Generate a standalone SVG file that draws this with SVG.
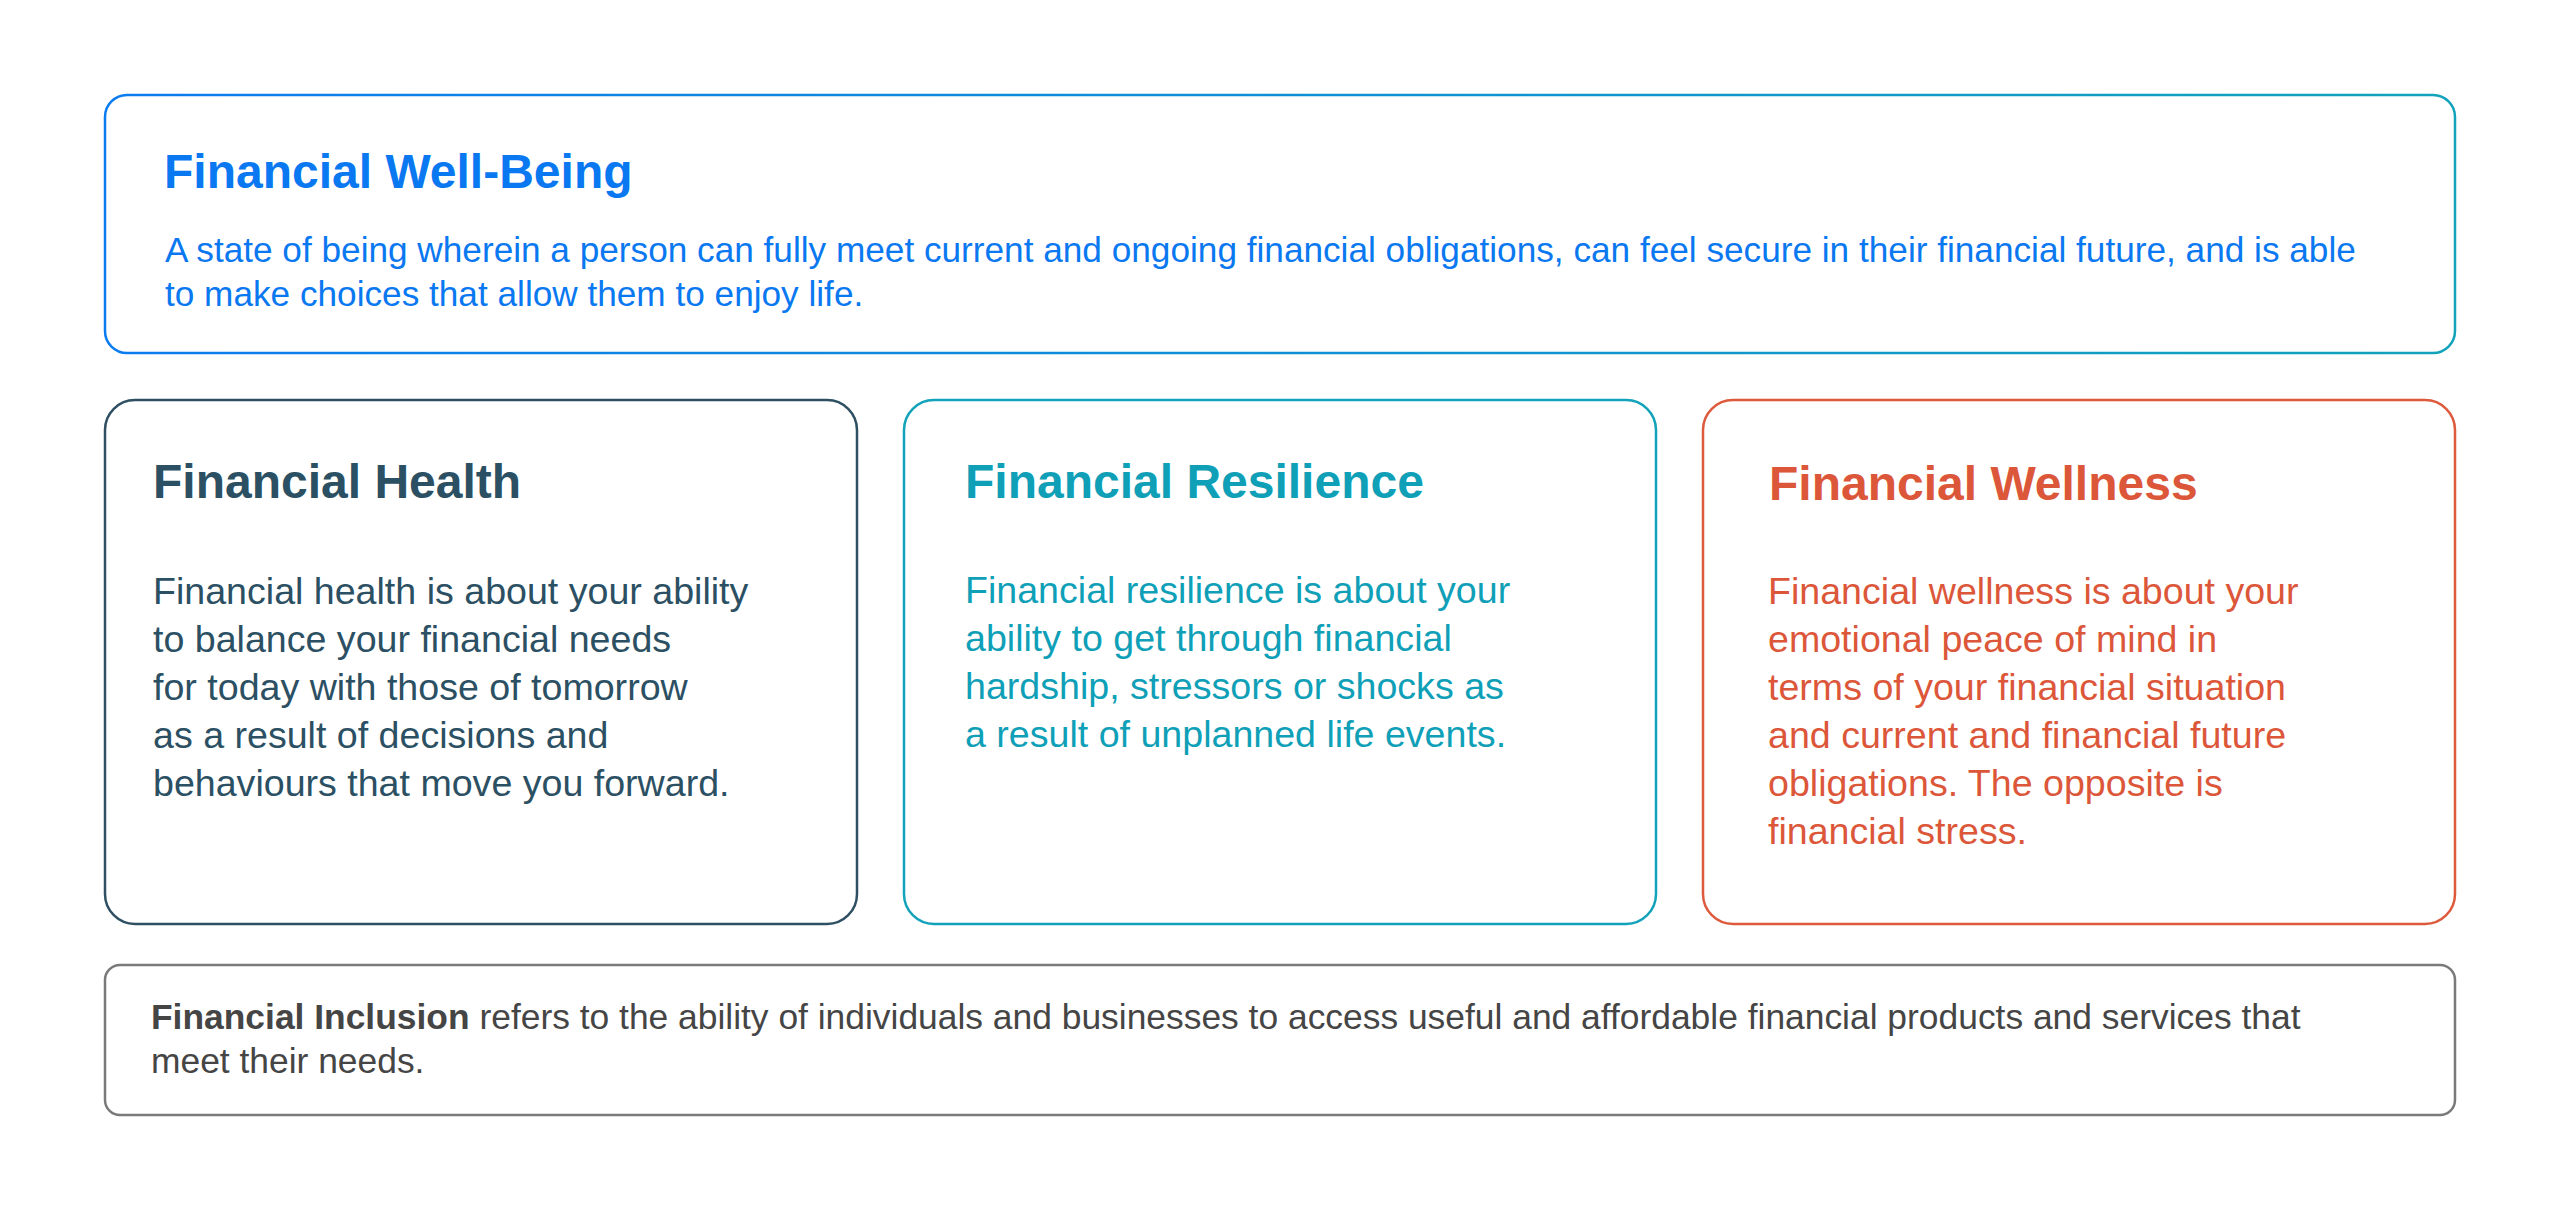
<svg xmlns="http://www.w3.org/2000/svg" width="2560" height="1205" viewBox="0 0 2560 1205">
<defs>
<linearGradient id="topStroke" x1="0" y1="0" x2="1" y2="0">
<stop offset="0" stop-color="#0a7cf0"/>
<stop offset="1" stop-color="#12a3bb"/>
</linearGradient>
</defs>
<style>
.box{fill:#ffffff;stroke-width:2.5}
.title{font-family:"Liberation Sans",Arial,Helvetica,sans-serif;font-weight:bold;font-size:48px}
.body{font-family:"Liberation Sans",Arial,Helvetica,sans-serif;font-size:37.6px}
.top{font-family:"Liberation Sans",Arial,Helvetica,sans-serif;font-size:35.2px}
.inc{font-family:"Liberation Sans",Arial,Helvetica,sans-serif;font-size:35.4px;fill:#454545}
.blue{fill:#0a78f0}
.slate{fill:#2c5063}
.teal{fill:#0fa0b8}
.orange{fill:#dc573a}
</style>
<rect width="2560" height="1205" fill="#ffffff"/>

<g id="well-being">
<rect class="box" x="105" y="95" width="2350" height="258" rx="22" ry="22" stroke="url(#topStroke)"/>
<text class="title blue" x="164" y="188">Financial Well-Being</text>
<text class="top blue" x="165" y="262">A state of being wherein a person can fully meet current and ongoing financial obligations, can feel secure in their financial future, and is able</text>
<text class="top blue" x="165" y="306">to make choices that allow them to enjoy life.</text>
</g>

<g id="health">
<rect class="box" x="105" y="400" width="752" height="524" rx="30" ry="30" stroke="#2f5062"/>
<text class="title slate" x="153" y="498">Financial Health</text>
<text class="body slate" x="153" y="604">Financial health is about your ability</text>
<text class="body slate" x="153" y="652">to balance your financial needs</text>
<text class="body slate" x="153" y="700">for today with those of tomorrow</text>
<text class="body slate" x="153" y="748">as a result of decisions and</text>
<text class="body slate" x="153" y="796">behaviours that move you forward.</text>
</g>

<g id="resilience">
<rect class="box" x="904" y="400" width="752" height="524" rx="30" ry="30" stroke="#12a2b9"/>
<text class="title teal" x="965" y="498">Financial Resilience</text>
<text class="body teal" x="965" y="603">Financial resilience is about your</text>
<text class="body teal" x="965" y="651">ability to get through financial</text>
<text class="body teal" x="965" y="699">hardship, stressors or shocks as</text>
<text class="body teal" x="965" y="747">a result of unplanned life events.</text>
</g>

<g id="wellness">
<rect class="box" x="1703" y="400" width="752" height="524" rx="30" ry="30" stroke="#de5a3d"/>
<text class="title orange" x="1769" y="500" font-size="47.5px">Financial Wellness</text>
<text class="body orange" x="1768" y="604">Financial wellness is about your</text>
<text class="body orange" x="1768" y="652">emotional peace of mind in</text>
<text class="body orange" x="1768" y="700">terms of your financial situation</text>
<text class="body orange" x="1768" y="748">and current and financial future</text>
<text class="body orange" x="1768" y="796">obligations. The opposite is</text>
<text class="body orange" x="1768" y="844">financial stress.</text>
</g>

<g id="inclusion">
<rect class="box" x="105" y="965" width="2350" height="150" rx="15" ry="15" stroke="#7a7a7a"/>
<text class="inc" x="151" y="1029"><tspan font-weight="bold">Financial Inclusion</tspan> refers to the ability of individuals and businesses to access useful and affordable financial products and services that</text>
<text class="inc" x="151" y="1073">meet their needs.</text>
</g>
</svg>
